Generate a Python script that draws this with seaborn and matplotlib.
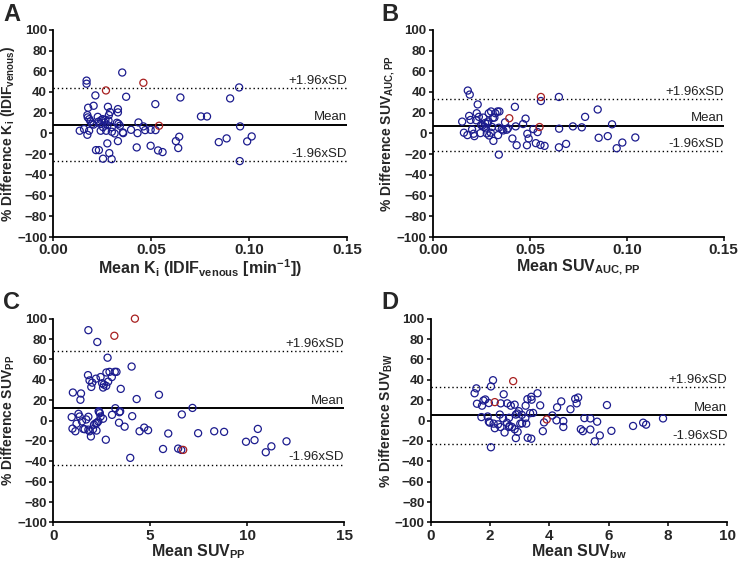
import matplotlib
matplotlib.use("Agg")
import matplotlib.pyplot as plt
import seaborn as sns
import pandas as pd

# --- Panel A: Ki ---
a_x = [0.017, 0.017, 0.0352, 0.0215, 0.0372, 0.0649, 0.0521, 0.0206, 0.0178, 0.0279,
       0.033, 0.033, 0.029, 0.0174, 0.0284, 0.0754, 0.0785, 0.0227, 0.0184, 0.0252,
       0.0266, 0.0282, 0.019, 0.023, 0.0325, 0.0435, 0.0198, 0.024, 0.0333, 0.0277,
       0.034, 0.046, 0.0954, 0.0254, 0.0299, 0.0135, 0.0157, 0.0183, 0.0242, 0.027,
       0.0299, 0.0397, 0.0469, 0.0497, 0.0522, 0.0357, 0.0313, 0.0174, 0.043, 0.0643,
       0.1013, 0.0885, 0.0626, 0.033, 0.0845, 0.099, 0.0276, 0.0497, 0.0426, 0.0638,
       0.0218, 0.0233, 0.0535, 0.0558, 0.0286, 0.0254, 0.0298, 0.0952, 0.0949, 0.0903,
       0.0176, 0.0262, 0.0245, 0.0205, 0.0355]
a_y = [51, 48, 58.8, 36.7, 35.4, 34.7, 28.3, 26.7, 24.8, 25.7,
       23.5, 20.3, 20.6, 17.7, 17.7, 16.4, 16.4, 16, 13.8, 13.8,
       13.2, 12.5, 11.6, 11.3, 10.3, 10.6, 9.3, 9.3, 9.3, 8,
       7.4, 6.8, 6.8, 6.1, 6.1, 2.6, 4.2, 2.6, 2.6, 2.6,
       1.6, 3.5, 3.2, 3.5, 3.2, 0.3, 0, -1.3, 0.3, -3.2,
       -2.9, -4.8, -7.4, -7.4, -8.4, -7.7, -9.6, -11.9, -13.5, -14.1,
       -16.1, -16.1, -16.4, -18, -19, -24.4, -24.8, -26.7, 44.4, 33.8,
       15.5, 10.5, 12.8, 8.5, 1.0]
a_red_x = [0.0269, 0.046, 0.054]
a_red_y = [41.5, 48.9, 7.4]
a_lines = [43.7, 8.4, -26.7]

# --- Panel B: SUV AUC,PP ---
b_x = [0.018, 0.019, 0.0231, 0.0423, 0.0557, 0.065, 0.085, 0.0785, 0.0478, 0.0924,
       0.0722, 0.0768, 0.0651, 0.0518, 0.054, 0.0855, 0.0902, 0.1044, 0.0977, 0.0948,
       0.0687, 0.065, 0.0487, 0.0494, 0.0485, 0.041, 0.0432, 0.0531, 0.0555, 0.0576,
       0.034, 0.0312, 0.0427, 0.0465, 0.0151, 0.016, 0.0178, 0.0187, 0.0194, 0.0202,
       0.021, 0.0214, 0.0223, 0.0226, 0.0237, 0.0245, 0.0249, 0.026, 0.0269, 0.0273,
       0.0278, 0.0281, 0.0288, 0.029, 0.03, 0.0305, 0.0309, 0.0322, 0.0333, 0.0343,
       0.034, 0.0355, 0.0363, 0.0372, 0.0381, 0.0387, 0.0317, 0.0298, 0.0336, 0.0255,
       0.0285, 0.0265]
b_y = [41.4, 37.5, 28, 25.7, 31.3, 35.2, 23.1, 16, 14.3, 8.8,
       6.8, 5.9, 4.6, 4.2, 1.3, -4.2, -2.6, -3.9, -8.8, -14.3,
       -10.1, -13.4, -0.3, -4.9, -11.4, -4.9, -11.4, -9.4, -11.1, -12,
       -20.5, -7.2, 6.8, 9.1, 11.4, 0.7, -1.6, 16.9, 13, 3.9,
       -0.3, -2.6, 12.7, 19.5, 16, 0.3, 8.1, 15.3, 10.1, 4.9,
       0, 9.4, 19.5, -2, 21.2, 6.2, 15, 19.5, 21.2, 21.2,
       5.5, 3.9, 2.9, 10.7, 3.6, 4.9, 15.3, 0.7, -1.6, 7.5,
       11.5, 6.5]
b_red_x = [0.0557, 0.0394, 0.055]
b_red_y = [35.2, 14.7, 6.2]
b_lines = [32.9, 7.5, -17.3]

# --- Panel C: SUV PP ---
c_x = [1.81, 2.27, 2.8, 4.04, 1.79, 2.44, 2.74, 2.9, 3.17, 3.26,
       3.02, 1.87, 2.2, 2.01, 1.96, 2.52, 2.61, 2.57, 2.73, 2.83,
       3.48, 1.01, 1.43, 1.4, 4.3, 5.45, 7.18, 3.2, 2.34, 2.4,
       3.41, 3.03, 4.07, 6.63, 3.39, 3.68, 4.69, 4.89, 4.45, 5.93,
       7.47, 8.3, 8.81, 10.55, 10.38, 9.94, 12.03, 11.25, 10.96, 5.66,
       6.44, 6.6, 3.97, 2.71, 1.94, 0.95, 0.99, 1.14, 1.2, 1.3,
       1.36, 1.48, 1.55, 1.62, 1.7, 1.81, 1.81, 1.87, 2.05, 2.1,
       2.18, 2.25, 2.32, 2.23, 2.44, 2.57, 2.37, 3.45]
c_y = [88.7, 77.1, 61.7, 53, 44.6, 42.7, 47.2, 47.8, 47.8, 47.8,
       42.7, 39.4, 41.1, 37.2, 33, 36.6, 35.3, 32.4, 34, 38.2,
       31.1, 27.5, 26.6, 20.4, 21.1, 25.3, 12.4, 12.1, 9.2, 7.2,
       8.2, 5.6, 4.3, 6, -2.1, -6, -6.9, -9.5, -10.5, -12.7,
       -12.4, -10.5, -11.1, -8.2, -19.2, -20.8, -20.4, -25.3, -31.1, -27.9,
       -27.5, -28.8, -36.6, -18.8, -15.6, 3.4, -7.9, -10.5, -3.1, 6.6,
       4.0, -0.8, -8.2, -8.5, 1.1, 3.7, -8.9, -10.5, -8.5, -4.0,
       -2.7, -2.4, -0.8, -9.8, 4.0, 1.8, 8.5, 9.0]
c_red_x = [4.21, 3.15, 6.7]
c_red_y = [100, 83.2, -28.8]
c_lines = [68.1, 12.1, -43.6]

# --- Panel D: SUV bw ---
d_x = [2.1, 2.03, 1.54, 1.48, 2.46, 3.6, 3.39, 4.97, 4.87, 4.4,
       4.26, 4.71, 5.94, 4.92, 1.84, 1.78, 1.56, 1.73, 1.96, 2.36,
       2.58, 2.83, 2.7, 3.2, 3.26, 3.69, 2.97, 2.92, 3.07, 3.35,
       3.45, 4.1, 2.87, 1.92, 2.33, 2.64, 3.19, 2.44, 4.24, 4.47,
       5.18, 5.38, 5.61, 7.83, 7.16, 7.26, 6.82, 4.47, 5.06, 5.38,
       6.09, 5.13, 3.78, 3.82, 1.99, 2.12, 2.27, 1.96, 2.16, 2.35,
       2.49, 2.66, 2.74, 2.83, 2.93, 3.02, 3.08, 2.87, 3.27, 3.39,
       5.7, 5.53, 2.03, 2.57, 2.64, 3.22, 1.71, 3.4]
d_y = [39.6, 33.5, 31.6, 26.8, 25.8, 26.8, 23.3, 22.6, 21.3, 18.8,
       13, 11.1, 15.2, 16.9, 20.7, 19.7, 16.5, 14.6, 17.2, 16.9,
       16.9, 15.6, 14.6, 14.6, 21, 14.9, 9.2, 6.9, 5.6, 7.2,
       7.5, 5, 5.9, 4, 5.9, 2.7, 2.4, 2.1, 0.2, -0.5,
       2.4, 2.1, -1.1, 2.1, -2.1, -4, -5.3, -6.3, -8.5, -8.8,
       -10.1, -10.4, -10.4, -1.8, -2.1, -3, -3.7, -1.1, -7.5, -6.3,
       -11.7, -5.3, -6.3, -8.5, -11.1, -3, -2.7, -17.2, -16.9, -17.8,
       -14.6, -20.4, -26.2, -2.1, -6.3, -3, 3.4, 20.5]
d_red_x = [2.78, 2.16, 3.91]
d_red_y = [38.7, 18.1, 1.1]
d_lines = [32.6, 5.0, -22.6]

sns.set_style("ticks")
plt.rcParams['font.family'] = ['Liberation Sans', 'DejaVu Sans']
plt.rcParams['font.weight'] = 'bold'
plt.rcParams['mathtext.fontset'] = 'custom'
plt.rcParams['mathtext.rm'] = 'Liberation Sans:bold'
plt.rcParams['mathtext.bf'] = 'Liberation Sans:bold'
plt.rcParams['mathtext.default'] = 'bf'

BLUE = '#1c1c8e'
RED = '#a82020'

fig = plt.figure(figsize=(7.4, 5.63), dpi=100)

panels = [
    ("A", [0.072, 0.579, 0.397, 0.368], a_x, a_y, a_red_x, a_red_y, a_lines,
     (0, 0.15), [0, 0.05, 0.10, 0.15], "{:.2f}",
     r"Mean K$_i$ (IDIF$_{venous}$ [min$^{-1}$])", r"% Difference K$_i$ (IDIF$_{venous}$)",
     (0.004, 0.962)),
    ("B", [0.585, 0.579, 0.393, 0.368], b_x, b_y, b_red_x, b_red_y, b_lines,
     (0, 0.15), [0, 0.05, 0.10, 0.15], "{:.2f}",
     r"Mean SUV$_{AUC,PP}$", r"% Difference SUV$_{AUC,PP}$",
     (0.515, 0.962)),
    ("C", [0.072, 0.072, 0.393, 0.362], c_x, c_y, c_red_x, c_red_y, c_lines,
     (0, 15), [0, 5, 10, 15], "{:.0f}",
     r"Mean SUV$_{PP}$", r"% Difference SUV$_{PP}$",
     (0.004, 0.452)),
    ("D", [0.582, 0.072, 0.401, 0.362], d_x, d_y, d_red_x, d_red_y, d_lines,
     (0, 10), [0, 2, 4, 6, 8, 10], "{:.0f}",
     r"Mean SUV$_{bw}$", r"% Difference SUV$_{BW}$",
     (0.515, 0.452)),
]

for (letter, pos, xs, ys, rx, ry, lines, xlim, xticks, fmt, xlabel, ylabel, lpos) in panels:
    ax = fig.add_axes(pos)
    df = pd.DataFrame({'x': xs, 'y': ys})
    dr = pd.DataFrame({'x': rx, 'y': ry})
    sns.scatterplot(data=df, x='x', y='y', ax=ax, s=26, fc='none', ec=BLUE,
                    linewidth=0.9, zorder=3, clip_on=False)
    sns.scatterplot(data=dr, x='x', y='y', ax=ax, s=26, fc='none', ec=RED,
                    linewidth=0.9, zorder=3, clip_on=False)

    upper, mean, lower = lines
    ax.axhline(mean, color='black', lw=1.4, zorder=2)
    ax.axhline(upper, color='black', lw=1.0, ls=(0, (1, 2)), zorder=2)
    ax.axhline(lower, color='black', lw=1.0, ls=(0, (1, 2)), zorder=2)
    tr = ax.get_yaxis_transform()
    for val, txt in [(upper, "+1.96xSD"), (mean, "Mean"), (lower, "-1.96xSD")]:
        ax.text(1.0, val + 1.5, txt, transform=tr, ha='right', va='bottom',
                fontsize=9.5, fontweight='normal', color='#222222')

    ax.set_xlim(*xlim)
    ax.set_ylim(-100, 100)
    ax.set_xticks(xticks)
    ax.set_xticklabels([fmt.format(t) for t in xticks])
    ax.set_yticks(range(-100, 101, 20))
    ax.tick_params(width=1.3, length=3, direction='out', pad=1.5)
    ax.tick_params(axis='y', labelsize=9.5)
    ax.tick_params(axis='x', labelsize=11)
    for sp in ['left', 'bottom']:
        ax.spines[sp].set_linewidth(1.3)
        ax.spines[sp].set_color('black')
    sns.despine(ax=ax)
    ax.set_xlabel(xlabel, fontsize=11.5, fontweight='bold', labelpad=0)
    ax.set_ylabel(ylabel, fontsize=10, fontweight='bold', labelpad=0)
    fig.text(lpos[0], lpos[1], letter, fontsize=17, fontweight='bold')

plt.savefig("out.png", dpi=100)
